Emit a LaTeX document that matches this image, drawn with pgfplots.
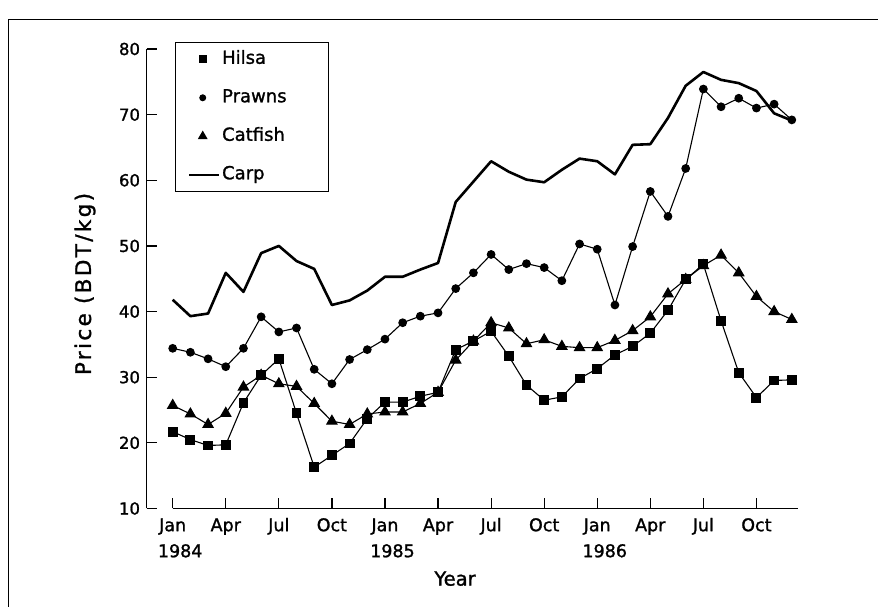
\documentclass[border=0pt]{standalone}
\usepackage{fontspec}
\setmainfont{DejaVu Sans}[FakeBold=1.3]
\newfontfamily\ylabfont{DejaVu Sans}[LetterSpace=11, FakeBold=1.3]
\usepackage{pgfplots}
\pgfplotsset{compat=1.18}
\usepackage{pgfplotstable}

\pgfplotsset{
  markimg/.style={legend image code/.code={\draw[##1, mark size=#1] plot coordinates {(13.4pt,0pt)};}},
  lineimg/.style={legend image code/.code={\draw[##1, line width=#1] (0pt,0pt) -- (30pt,0pt);}},
}

\pgfplotstableread{
m  hilsa prawns catfish carp
0  21.7  34.4   25.7    41.8
1  20.5  33.8   24.4    39.3
2  19.6  32.8   22.8    39.7
3  19.7  31.6   24.5    45.9
4  26.1  34.4   28.5    43.0
5  30.3  39.2   30.3    48.9
6  32.8  36.9   29.0    50.0
7  24.5  37.5   28.6    47.7
8  16.3  31.2   26.0    46.5
9  18.1  29.0   23.3    41.0
10 19.9  32.7   22.8    41.7
11 23.7  34.2   24.4    43.2
12 26.2  35.8   24.7    45.3
13 26.2  38.3   24.7    45.3
14 27.1  39.3   26.0    46.4
15 27.7  39.8   27.7    47.4
16 34.2  43.5   32.6    56.7
17 35.5  45.9   35.5    59.8
18 37.0  48.7   38.3    62.9
19 33.2  46.4   37.5    61.3
20 28.8  47.3   35.1    60.1
21 26.5  46.7   35.7    59.7
22 27.0  44.7   34.7    61.6
23 29.8  50.3   34.5    63.3
24 31.3  49.5   34.5    62.9
25 33.4  41.0   35.6    60.9
26 34.7  49.9   37.1    65.4
27 36.7  58.3   39.2    65.5
28 40.2  54.5   42.7    69.5
29 44.9  61.8   44.9    74.4
30 47.2  73.9   47.0    76.5
31 38.6  71.2   48.6    75.3
32 30.7  72.5   45.9    74.8
33 26.9  71.0   42.3    73.6
34 29.5  71.6   40.0    70.2
35 29.6  69.2   38.8    69.1
}\datatable

\begin{document}
\begin{tikzpicture}
\path[use as bounding box] (0,0) rectangle (878pt,607pt);
\draw[line width=1.4pt] (8.4pt,0pt) -- (8.4pt,587.4pt) -- (878pt,587.4pt);
\begin{axis}[
  at={(146.7pt,98.5pt)}, anchor=south west,
  scale only axis, width=651.3pt, height=459.5pt,
  xmin=-1.47, xmax=35.35, ymin=10, ymax=80,
  clip=false,
  axis line style={draw=none},
  xtick pos=left, ytick pos=left,
  tick align=inside,
  major tick length=10pt,
  tick style={black, line width=1.2pt},
  xtick={0,3,...,33},
  xticklabels={Jan,Apr,Jul,Oct,Jan,Apr,Jul,Oct,Jan,Apr,Jul,Oct},
  ytick={10,20,...,80},
  /pgf/number format/assume math mode=true,
  x tick label style={font=\fontsize{17.5}{19}\selectfont, inner sep=0pt, text height=12.5pt, text depth=4pt, anchor=north, yshift=-10pt},
  y tick label style={font=\fontsize{16.5}{18}\selectfont, inner sep=0pt, anchor=east, xshift=-6.5pt},
  extra x ticks={0,12,24},
  extra x tick labels={1984,1985,1986},
  extra x tick style={major tick length=0pt, tick label style={font=\fontsize{18.5}{20}\selectfont, yshift=-26pt, xshift=7.5pt}},
  xlabel={Year},
  xlabel style={font=\fontsize{19.5}{21}\selectfont, at={(axis description cs:0.4734,-0.1678)}, anchor=base},
  ylabel={\ylabfont Price (BDT/kg)},
  ylabel style={font=\fontsize{21.5}{24}\selectfont, at={(axis description cs:-0.0947,0.4886)}, anchor=center},
  legend style={at={(axis description cs:0.0435,1.0155)}, anchor=north west, draw=black, line width=1pt,
    inner xsep=13pt, inner ysep=6.4pt, row sep=17.5pt, font=\fontsize{18}{20}\selectfont,
    nodes={inner sep=2pt, text height=13pt, text depth=4pt, text width=91pt}},
  legend cell align=left,
]
\addplot[black, line width=1.1pt, mark=square*, mark size=4.4pt, markimg=3.3pt]
  table[x=m, y=hilsa]{\datatable};
\addlegendentry{Hilsa}
\addplot[black, line width=1.1pt, mark=*, mark size=3.8pt, markimg=2.9pt]
  table[x=m, y=prawns]{\datatable};
\addlegendentry{Prawns}
\addplot[black, line width=1.1pt, mark=triangle*, mark size=5.8pt, markimg=4.6pt]
  table[x=m, y=catfish]{\datatable};
\addlegendentry{Catfish}
\addplot[black, line width=2.6pt, no marks, line join=round, lineimg=1.6pt]
  table[x=m, y=carp]{\datatable};
\addlegendentry{Carp}
\draw[line width=1.3pt] (axis cs:0,10) -- (axis cs:35.35,10);
\draw[line width=1.3pt] (axis cs:-1.47,10) -- (axis cs:-1.47,80);
\end{axis}
\end{tikzpicture}
\end{document}
